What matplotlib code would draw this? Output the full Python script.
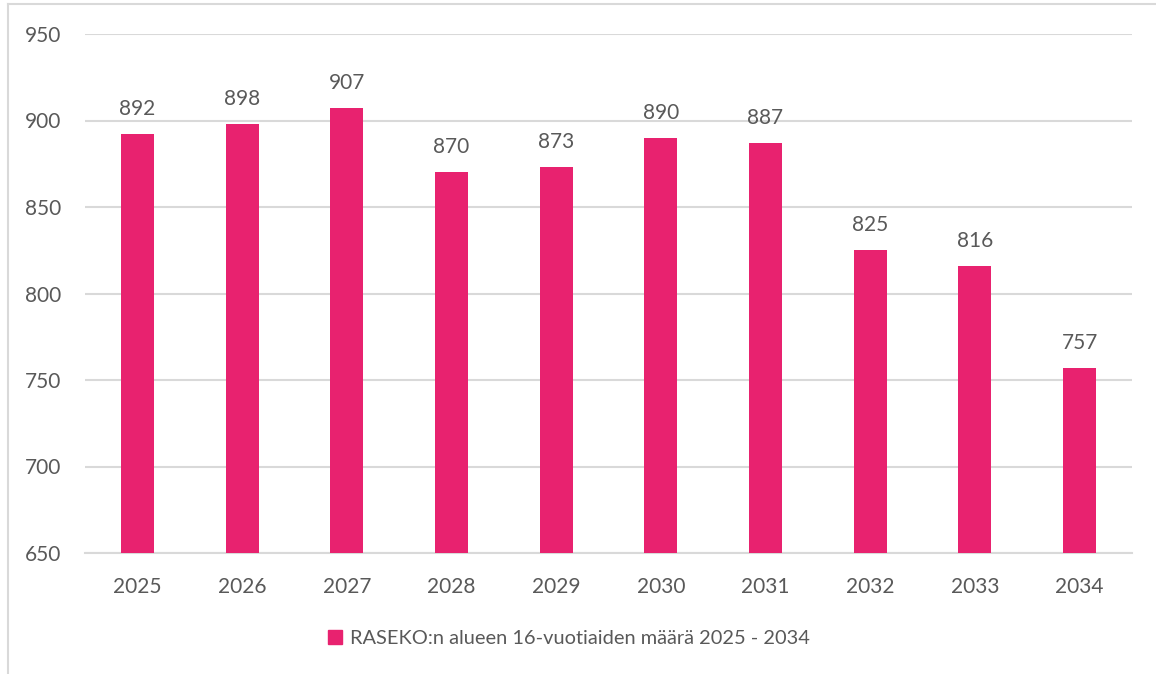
import matplotlib
matplotlib.use("Agg")
import matplotlib.pyplot as plt
from matplotlib.lines import Line2D
from matplotlib.patches import Rectangle

years = ["2025", "2026", "2027", "2028", "2029", "2030", "2031", "2032", "2033", "2034"]
values = [892, 898, 907, 870, 873, 890, 887, 825, 816, 757]
series_name = "RASEKO:n alueen 16-vuotiaiden määrä 2025 - 2034"
yticks = [650, 700, 750, 800, 850, 900, 950]

bar_color = "#E8226F"
text_color = "#595959"
grid_color = "#D9D9D9"

plt.rcParams['font.family'] = ['Lato', 'DejaVu Sans']

fig = plt.figure(figsize=(11.56, 6.74), dpi=100)
ax = fig.add_axes([85/1156, 1-553/674, (1132-85)/1156, (553-34)/674])

x = list(range(len(years)))
bars = ax.bar(x, values, width=0.315, color=bar_color, zorder=3, label=series_name)
ax.set_xlim(-0.5, len(years)-0.5)
ax.set_ylim(650, 950)
ax.set_yticks(yticks)
ax.set_yticklabels([str(t) for t in yticks])
ax.set_xticks(x)
ax.set_xticklabels(years)
ax.tick_params(axis='both', length=0, labelsize=15, colors=text_color)
ax.tick_params(axis='y', pad=17.3)
ax.tick_params(axis='x', pad=17)
ax.grid(axis='y', color=grid_color, linewidth=1.5, zorder=0)
for s in ['top', 'right', 'left']:
    ax.spines[s].set_visible(False)
ax.spines['bottom'].set_color(grid_color)
ax.spines['bottom'].set_linewidth(1.5)

for xi, v in zip(x, values):
    ax.annotate(str(v), (xi, v), xytext=(0, 15), textcoords='offset pixels',
                ha='center', va='bottom', fontsize=15, color=text_color)

# legend
leg = fig.legend(handles=[Rectangle((0, 0), 1, 1, color=bar_color)], labels=[series_name],
                 loc='center', bbox_to_anchor=(569/1156, 1-638/674), frameon=False,
                 fontsize=14.4, handlelength=0.7, handleheight=0.7, handletextpad=0.4,
                 labelcolor=text_color)

# chart border (partially visible)
fig.add_artist(Line2D([8/1156, 8/1156], [0, 1-4/674], transform=fig.transFigure,
                      color=grid_color, linewidth=1.5))
fig.add_artist(Line2D([8/1156, 1], [1-4/674, 1-4/674], transform=fig.transFigure,
                      color=grid_color, linewidth=1.5))

fig.savefig("out.png", dpi=100)
